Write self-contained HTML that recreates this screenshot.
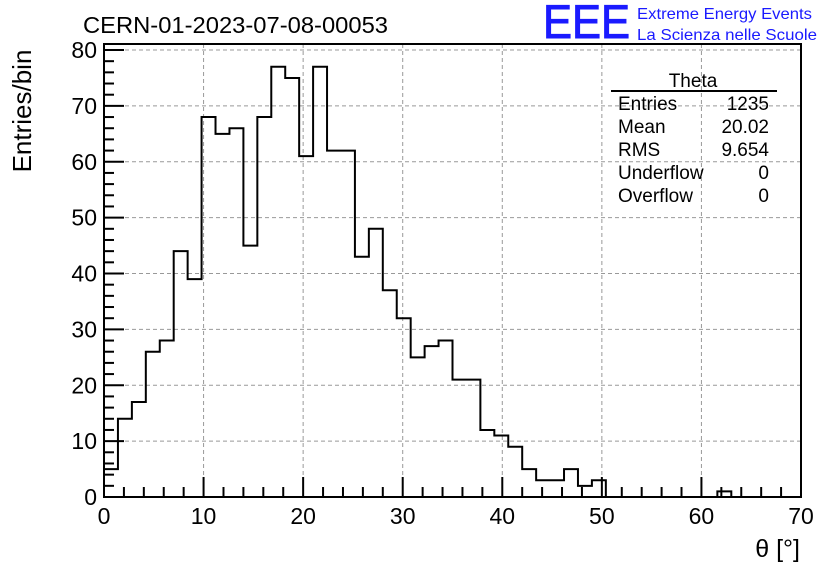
<!DOCTYPE html>
<html><head><meta charset="utf-8"><style>
body{margin:0;background:#fff}
svg{display:block;font-family:"Liberation Sans",sans-serif}
</style></head><body>
<svg id="chart" width="836" height="572">
<rect width="836" height="572" fill="#fff"/>
<g id="grid"></g>
<g id="axes"></g>
<path id="hist" fill="none" stroke="#000" stroke-width="2"/>
<rect x="104" y="44" width="697" height="453" fill="none" stroke="#000" stroke-width="2"/>
<text x="83" y="33" font-size="23.5" textLength="305" lengthAdjust="spacingAndGlyphs">CERN-01-2023-07-08-00053</text>
<text x="543" y="38" font-size="47" fill="#1a1aff" stroke="#1a1aff" stroke-width="1" textLength="87" lengthAdjust="spacingAndGlyphs">EEE</text>
<text x="637" y="19" font-size="16" fill="#1a1aff" textLength="175" lengthAdjust="spacingAndGlyphs">Extreme Energy Events</text>
<text x="637" y="40" font-size="16" fill="#1a1aff" textLength="180" lengthAdjust="spacingAndGlyphs">La Scienza nelle Scuole</text>
<text transform="translate(31,111) rotate(-90)" text-anchor="middle" font-size="26">Entries/bin</text>
<text x="800" y="557" text-anchor="end" font-size="25">θ [°]</text>
<g font-size="19">
<text x="693" y="87" text-anchor="middle">Theta</text>
<line x1="611" y1="91" x2="777" y2="91" stroke="#000" stroke-width="2"/>
<text x="618" y="110">Entries</text><text x="769" y="110" text-anchor="end">1235</text>
<text x="618" y="133">Mean</text><text x="769" y="133" text-anchor="end">20.02</text>
<text x="618" y="156">RMS</text><text x="769" y="156" text-anchor="end">9.654</text>
<text x="618" y="179">Underflow</text><text x="769" y="179" text-anchor="end">0</text>
<text x="618" y="202">Overflow</text><text x="769" y="202" text-anchor="end">0</text>
</g>
</svg>
<script>
const counts=[5,14,17,26,28,44,39,68,65,66,45,68,77,75,61,77,62,62,43,48,37,32,25,27,28,21,21,12,11,9,5,3,3,5,2,3,0,0,0,0,0,0,0,0,1,0,0,0,0,0];
const xTicks=[0,10,20,30,40,50,60,70];
const yTicks=[0,10,20,30,40,50,60,70,80];
const binWidth=1.4;
const X=v=>104+v*(697/70);
const Y=v=>497-v*(447/80);
const NS="http://www.w3.org/2000/svg";
const grid=document.getElementById('grid'),axes=document.getElementById('axes');
function mk(tag,attrs,parent){const e=document.createElementNS(NS,tag);for(const k in attrs)e.setAttribute(k,attrs[k]);parent.appendChild(e);return e;}
xTicks.forEach(t=>{
 if(t>0&&t<70){const g=mk('line',{x1:X(t),x2:X(t),y1:44,y2:497,stroke:'#999','stroke-dasharray':'4,3'},grid);
 
 }
 const l=mk('text',{x:X(t),y:524,'text-anchor':'middle','font-size':23},axes);l.textContent=t;
 
 
});
for(let v=0;v<=70;v+=2){const len=v%10===0?20:10;
 mk('line',{x1:X(v),x2:X(v),y1:497,y2:497-len,stroke:'#000','stroke-width':2},axes);}
yTicks.forEach(t=>{
 if(t>0){const g=mk('line',{x1:104,x2:801,y1:Y(t),y2:Y(t),stroke:'#999','stroke-dasharray':'4,3'},grid);
 
 }
 const l=mk('text',{x:97,y:Y(t)+8,'text-anchor':'end','font-size':23},axes);l.textContent=t;
 
 
});
for(let v=0;v<=80;v+=2){const len=v%10===0?20:10;
 mk('line',{x1:104,x2:104+len,y1:Y(v),y2:Y(v),stroke:'#000','stroke-width':2},axes);}
let d='M'+X(0)+','+Y(0);
counts.forEach((c,i)=>{d+=' L'+X(i*binWidth)+','+Y(c)+' L'+X((i+1)*binWidth)+','+Y(c);});
d+=' L'+X(70)+','+Y(0);
document.getElementById('hist').setAttribute('d',d);
</script>
</body></html>
